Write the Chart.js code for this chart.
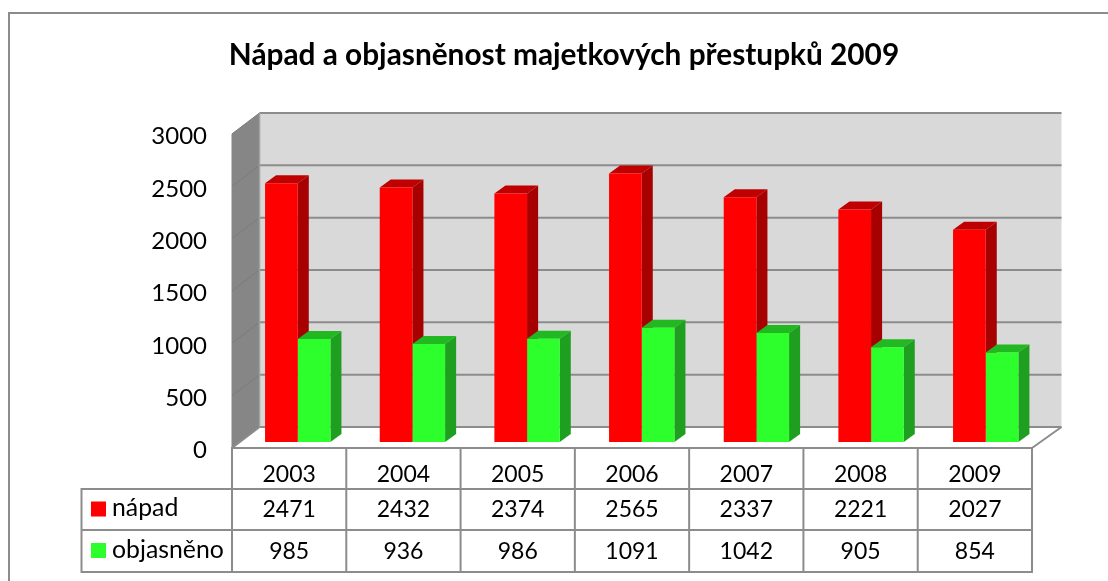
<!DOCTYPE html>
<html><head><meta charset="utf-8">
<style>html,body{margin:0;padding:0;background:#fff}#w{width:1108px;height:581px}canvas{display:block}</style>
<script src="https://cdn.jsdelivr.net/npm/chart.js@4"></script></head>
<body><div id="w"><canvas id="c" width="1108" height="581"></canvas></div>
<script>
const titleText = "Nápad a objasněnost majetkových přestupků 2009";
const years = ["2003","2004","2005","2006","2007","2008","2009"];
const napad = [2471,2432,2374,2565,2337,2221,2027];
const objasneno = [985,936,986,1091,1042,905,854];
const seriesNames = ["nápad","objasněno"];
const yTicks = [0,500,1000,1500,2000,2500,3000];

const LINE = "#8c8c8c", FONT = "Lato, Carlito, sans-serif", TEXT = "#000";
const WALL = {dxL:27.5, dxR:29.5, dy:-21};
const PLANE = {k:1.0033, c:7.65, dy:-6};
const BAR3D = {dx:11, dy:-8};
const faces = [{top:"#c00000",side:"#a60000",front:"#ff0000"},{top:"#22b822",side:"#1f9f1f",front:"#2dff2d"}];

function poly(ctx, pts, fill){
  ctx.beginPath(); pts.forEach((p,i)=> i?ctx.lineTo(p[0],p[1]):ctx.moveTo(p[0],p[1])); ctx.closePath();
  ctx.fillStyle = fill; ctx.fill();
}
function seg(ctx,x1,y1,x2,y2,color,w){
  ctx.beginPath(); ctx.moveTo(x1,y1); ctx.lineTo(x2,y2); ctx.strokeStyle=color; ctx.lineWidth=w; ctx.stroke();
}

const scene = {
  id:"scene",
  beforeDraw(chart){
    const {ctx, scales:{x,y}} = chart;
    const L=x.left, R=x.right, T=y.top, B=y.bottom, dl=WALL.dxL, dr=WALL.dxR, dy=WALL.dy;
    ctx.save();
    seg(ctx,9,581,9,13,LINE,2); seg(ctx,8,13,1108,13,LINE,2);
    poly(ctx,[[L+dl,T+dy],[R+dr,T+dy],[R+dr,B+dy],[L+dl,B+dy]],"#d9d9d9");
    poly(ctx,[[L-0.5,T],[L+dl,T+dy],[L+dl,B+dy],[L-0.5,B]],"#868686");
    yTicks.forEach(v=>{
      const py=y.getPixelForValue(v);
      seg(ctx,L,py,L+dl,py+dy,"#7b7b7b",1);
      seg(ctx,L+dl,py+dy,R+dr,py+dy,LINE,2);
    });
    seg(ctx,L+dl,T+dy,L+dl,B+dy,"#a0a0a0",1.5);
    seg(ctx,L,B,L+dl,B+dy,LINE,2);
    seg(ctx,R,B,R+dr,B+dy,LINE,2);
    ctx.restore();
  },
  beforeDatasetsDraw(chart){
    const ctx=chart.ctx, dx=BAR3D.dx, dy=BAR3D.dy;
    ctx.save(); ctx.translate(PLANE.c,PLANE.dy); ctx.scale(PLANE.k,1);
    faces.forEach((f,idx)=>{
      chart.getDatasetMeta(idx).data.forEach(b=>{
        const hw=b.width/2, l=b.x-hw, r=b.x+hw, t=b.y, bt=b.base;
        poly(ctx,[[l,t],[l+dx,t+dy],[r+dx,t+dy],[r,t]],f.top);
        poly(ctx,[[r,t],[r+dx,t+dy],[r+dx,bt+dy],[r,bt]],f.side);
      });
    });
  },
  afterDatasetsDraw(chart){
    chart.ctx.restore();
    const {ctx, scales:{x,y}} = chart;
    const L=x.left, R=x.right, B=y.bottom;
    const rows=[489,530,572], legL=81.5;
    ctx.save();
    const colW=(R-L)/years.length;
    seg(ctx,L-1,B,R+1,B,LINE,2);
    for(let i=0;i<=years.length;i++){ const cx=L+colW*i; seg(ctx,cx,B,cx,rows[2]+1,LINE,2); }
    seg(ctx,legL,rows[0],R,rows[0],LINE,2);
    seg(ctx,legL,rows[1],R,rows[1],LINE,2);
    seg(ctx,legL,rows[2],R,rows[2],LINE,2);
    seg(ctx,legL,rows[0]-1,legL,rows[2]+1,LINE,2);
    ctx.textBaseline="middle";
    [napad,objasneno].forEach((vals,s)=>{
      const cy=(rows[s]+rows[s+1])/2;
      ctx.fillStyle=faces[s].front; ctx.fillRect(91,cy-8,15,15);
      ctx.fillStyle=TEXT; ctx.textAlign="left"; ctx.font="24.8px "+FONT; ctx.fillText(seriesNames[s],112,cy-1);
      ctx.textAlign="center"; ctx.font="23px "+FONT;
      vals.forEach((v,i)=>ctx.fillText(String(v),x.getPixelForValue(i),cy+0.5));
    });
    ctx.restore();
  }
};

new Chart(document.getElementById("c"),{
  type:"bar",
  data:{labels:years,datasets:[
    {label:seriesNames[0],data:napad,backgroundColor:faces[0].front,borderWidth:0},
    {label:seriesNames[1],data:objasneno,backgroundColor:faces[1].front,borderWidth:0}
  ]},
  plugins:[scene],
  options:{
    responsive:false,animation:false,
    layout:{padding:{left:96,right:76,top:0,bottom:0}},
    datasets:{bar:{categoryPercentage:0.57,barPercentage:1}},
    plugins:{
      legend:{display:false},tooltip:{enabled:false},
      title:{display:true,text:titleText,color:TEXT,font:{family:FONT,size:29.8,weight:"bold",lineHeight:1.2},padding:{top:38,bottom:60.2}}
    },
    scales:{
      x:{grid:{display:false},border:{display:false},
        ticks:{color:TEXT,font:{family:FONT,size:23},padding:5,maxRotation:0,autoSkip:false},
        afterFit(s){s.height=133;}},
      y:{min:0,max:3000,grid:{display:false},border:{display:false},
        ticks:{color:TEXT,font:{family:FONT,size:24},padding:17,stepSize:500,labelOffset:2.5,callback:v=>String(v)},
        afterFit(s){s.width=136;}}
    }
  }
});
</script></body></html>
